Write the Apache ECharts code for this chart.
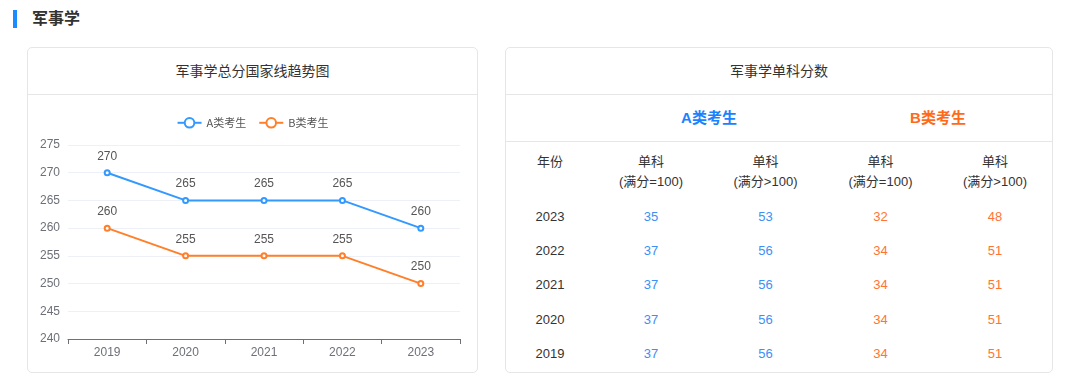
<!DOCTYPE html>
<html>
<head>
<meta charset="utf-8">
<script src="https://cdn.jsdelivr.net/npm/echarts@6/dist/echarts.min.js"></script>
<style>
  html, body { margin:0; padding:0; background:#fff; width:1080px; height:391px; overflow:hidden;
    font-family: "Liberation Sans", Arial, "Noto Sans CJK SC", sans-serif; }
  .bar { position:absolute; left:13px; top:10px; width:4px; height:18px; background:#1a8cff; }
  .sect { position:absolute; left:32px; top:8px; font-size:16px; font-weight:bold; color:#333; line-height:22px; }
  .panel { position:absolute; top:47px; height:324px; border:1px solid #e6e6e6; border-radius:5px; background:#fff; }
  .ptitle { position:absolute; left:0; right:0; top:0; height:46px; line-height:46px; text-align:center;
    font-size:14px; color:#333; border-bottom:1px solid #e6e6e6; }
  #chart { position:absolute; left:0; top:47px; width:449px; height:276px; }
  .grp { position:absolute; left:0; right:0; top:47px; height:46px; border-bottom:1px solid #e6e6e6; }
  .grp span { position:absolute; top:0; line-height:46px; font-size:15px; font-weight:bold; transform:translateX(-50%); }
  table { position:absolute; left:0; top:97px; width:546px; border-collapse:collapse; font-size:13px; }
  td, th { text-align:center; padding:0; font-weight:normal; }
  th { color:#333; height:47px; vertical-align:top; line-height:20px; padding-top:7px; }
  td { height:34.3px; }
  td.y { color:#333; }
  td.a { color:#3d8ff5; }
  td.b { color:#ff7435; }
</style>
</head>
<body>
<div class="bar"></div>
<div class="sect">军事学</div>

<div class="panel" style="left:27px; width:449px;">
  <div class="ptitle">军事学总分国家线趋势图</div>
  <div id="chart"></div>
</div>

<div class="panel" style="left:505px; width:546px;">
  <div class="ptitle">军事学单科分数</div>
  <div class="grp">
    <span id="ga" style="left:203px; color:#1a82ff;"></span>
    <span id="gb" style="left:432px; color:#ff6a1a;"></span>
  </div>
  <table id="tbl"></table>
</div>

<script>
// ---- data ----
var years = ['2019', '2020', '2021', '2022', '2023'];
var seriesNames = ['A类考生', 'B类考生'];
var totalA = [270, 265, 265, 265, 260];
var totalB = [260, 255, 255, 255, 250];
var yTicks = [240, 245, 250, 255, 260, 265, 270, 275];

var tableYears = ['2023', '2022', '2021', '2020', '2019'];
var colHeadLine1 = ['年份', '单科', '单科', '单科', '单科'];
var colHeadLine2 = ['', '(满分=100)', '(满分>100)', '(满分=100)', '(满分>100)'];
var singleA100 = [35, 37, 37, 37, 37];
var singleAover = [53, 56, 56, 56, 56];
var singleB100 = [32, 34, 34, 34, 34];
var singleBover = [48, 51, 51, 51, 51];

// ---- table ----
function esc(s) { return String(s).replace(/&/g, '&amp;').replace(/</g, '&lt;').replace(/>/g, '&gt;'); }
document.getElementById('ga').textContent = seriesNames[0];
document.getElementById('gb').textContent = seriesNames[1];
var colW = [88, 114, 115, 115, 114];
var html = '<tr>';
colHeadLine1.forEach(function (h, i) {
  var t = esc(h) + (colHeadLine2[i] ? '<br>' + esc(colHeadLine2[i]) : '');
  html += '<th style="width:' + colW[i] + 'px">' + t + '</th>';
});
html += '</tr>';
tableYears.forEach(function (y, i) {
  html += '<tr><td class="y">' + y + '</td><td class="a">' + singleA100[i] + '</td><td class="a">' +
    singleAover[i] + '</td><td class="b">' + singleB100[i] + '</td><td class="b">' + singleBover[i] + '</td></tr>';
});
document.getElementById('tbl').innerHTML = html;

// ---- chart ----
var chart = echarts.init(document.getElementById('chart'));
var colors = ['#3399ff', '#ff7f2a'];
chart.setOption({
  animation: false,
  color: colors,
  textStyle: { fontFamily: '"Liberation Sans", Arial, "Noto Sans CJK SC", sans-serif' },
  legend: {
    top: 17,
    left: 'center',
    itemWidth: 24,
    itemHeight: 12,
    itemGap: 12,
    textStyle: { fontSize: 11, color: '#555', fontFamily: '"Noto Sans CJK SC", sans-serif' },
    data: seriesNames
  },
  grid: { left: 40, right: 17, top: 50, bottom: 32 },
  xAxis: {
    type: 'category',
    data: years,
    boundaryGap: true,
    axisLine: { lineStyle: { color: '#6e7079' } },
    axisTick: { show: true, lineStyle: { color: '#6e7079' } },
    axisLabel: { color: '#6e7079', fontSize: 12, margin: 8 }
  },
  yAxis: {
    type: 'value',
    min: yTicks[0],
    max: yTicks[yTicks.length - 1],
    interval: 5,
    axisLine: { show: false },
    axisTick: { show: false },
    axisLabel: { color: '#6e7079', fontSize: 12, margin: 8 },
    splitLine: { lineStyle: { color: '#edf1f7' } }
  },
  series: [
    {
      name: seriesNames[0], type: 'line', data: totalA,
      symbol: 'emptyCircle', symbolSize: 5,
      lineStyle: { width: 2 },
      label: { show: true, position: 'top', color: '#555', fontSize: 12, distance: 7 }
    },
    {
      name: seriesNames[1], type: 'line', data: totalB,
      symbol: 'emptyCircle', symbolSize: 5,
      lineStyle: { width: 2 },
      label: { show: true, position: 'top', color: '#555', fontSize: 12, distance: 7 }
    }
  ]
});
</script>
</body>
</html>
